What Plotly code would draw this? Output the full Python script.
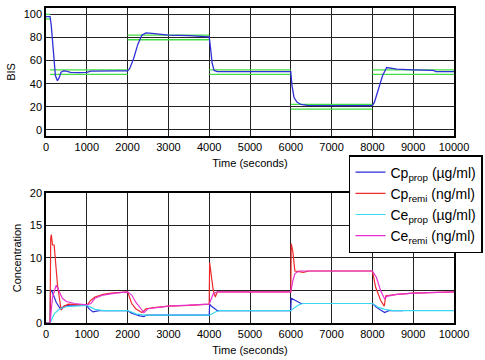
import plotly.graph_objects as go
from plotly.subplots import make_subplots

# ---- BIS data ----
bis_t = [0, 100, 130, 180, 230, 280, 320, 370, 430, 500, 600, 800, 1000, 1100, 1300, 1800, 2000,
         2050, 2150, 2250, 2350, 2450, 2600, 2800, 3000, 3500, 3900, 4000, 4030, 4070, 4120, 4200,
         5000, 6000, 6030, 6080, 6150, 6250, 6400, 7000, 7900, 8000, 8050, 8150, 8250, 8350, 8450,
         8600, 9000, 9500, 9550, 10000]
bis_v = [98, 98, 90, 65, 47, 42.5, 45, 50, 51, 50.8, 49.8, 49.5, 49.8, 50.8, 51, 51, 51,
         53, 62, 74, 82, 84, 83.5, 82.5, 82, 81.5, 81, 80.5, 72, 58, 51.5, 50.5,
         50.5, 50.5, 38, 28, 24, 22, 21.2, 21, 21, 21, 24, 35, 47, 54, 53.5,
         52.5, 52, 51.5, 50.5, 50.5]

# target bands (upper / lower) per segment
band_start = [0, 100, 2000, 4000, 6000, 8000]
band_end = [100, 2000, 4000, 6000, 8000, 10000]
band_center = [98, 50, 80, 50, 20, 50]
band_half = 2

# ---- Concentration data ----
cpp_t = [0, 100, 110, 140, 250, 350, 450, 600, 1000, 1050, 1150, 1300, 2000, 2100, 2300, 2400, 2450,
         4000, 4010, 4050, 4200, 6000, 6010, 6100, 6250, 8000, 8100, 8300, 8400, 8750]
cpp_v = [0, 0, 4.8, 5.0, 3.2, 2.2, 2.6, 2.8, 2.7, 2.2, 1.7, 1.9, 1.9, 1.5, 1.1, 1.0, 1.2,
         1.2, 2.9, 2.6, 1.9, 1.9, 3.8, 3.5, 3.0, 3.0, 2.4, 1.6, 1.9, 1.9]

cpr_t = [0, 100, 115, 130, 160, 200, 280, 370, 450, 550, 1000, 1100, 1200, 1400, 1600, 2000,
         2100, 2200, 2350, 2450, 2700, 3000, 3500, 4000, 4010, 4050, 4100, 4150, 4200, 6000,
         6010, 6050, 6100, 6200, 6300, 6450, 8000, 8080, 8200, 8290, 8330, 8600, 9000, 10000]
cpr_v = [0, 0, 13.0, 13.6, 12.0, 12.0, 6.0, 2.0, 2.6, 2.9, 2.7, 3.5, 4.0, 4.4, 4.6, 4.8,
         3.0, 2.2, 1.6, 2.2, 2.4, 2.6, 2.7, 2.9, 9.3, 7.0, 5.0, 4.0, 4.8, 4.8,
         12.2, 11.0, 8.0, 7.9, 7.8, 8.0, 8.0, 5.5, 3.5, 2.6, 4.2, 4.4, 4.6, 4.8]

cep_t = [0, 100, 200, 300, 400, 500, 1000, 1100, 1200, 1400, 2000, 2100, 2200, 2400, 4000, 4100,
         4150, 4250, 6000, 6100, 6200, 6300, 8000, 8150, 8300, 8500, 10000]
cep_v = [0, 0, 1.4, 2.0, 2.3, 2.5, 2.7, 2.4, 2.1, 1.9, 1.9, 1.7, 1.4, 1.2, 1.2, 1.5,
         1.7, 1.9, 1.9, 2.4, 2.8, 3.0, 3.0, 2.4, 2.1, 1.9, 1.9]

cer_t = [0, 100, 160, 250, 300, 400, 500, 700, 1000, 1100, 1200, 1400, 1700, 2000, 2100, 2200,
         2350, 2400, 2500, 2700, 3000, 4000, 4050, 4100, 4200, 6000, 6050, 6100, 6200, 8000,
         8100, 8200, 8300, 8350, 8600, 9000, 10000]
cer_v = [0, 0, 4.0, 5.8, 5.2, 3.8, 3.3, 3.0, 2.8, 3.0, 3.8, 4.3, 4.6, 4.8, 4.3, 3.2,
         2.0, 1.6, 2.2, 2.4, 2.6, 2.9, 3.8, 4.5, 4.8, 4.8, 6.5, 7.6, 8.0, 8.0,
         7.0, 5.0, 3.7, 4.1, 4.4, 4.6, 4.8]

x_ticks = list(range(0, 10001, 1000))
x_tick_labels = [str(v) for v in x_ticks]
bis_ticks = [0, 20, 40, 60, 80, 100]
conc_ticks = [0, 5, 10, 15, 20]

fig = make_subplots(rows=2, cols=1, vertical_spacing=0.0)

# green bands
gx, gy = [], []
for s, e, c in zip(band_start, band_end, band_center):
    for off in (band_half, -band_half):
        gx += [s, e, None]
        gy += [c + off, c + off, None]
fig.add_trace(go.Scatter(x=gx, y=gy, mode="lines", line=dict(color="#44dd44", width=1.3),
                         showlegend=False, hoverinfo="skip"), row=1, col=1)
fig.add_trace(go.Scatter(x=bis_t, y=bis_v, mode="lines", line=dict(color="#3030d8", width=1.3),
                         showlegend=False), row=1, col=1)

fig.add_trace(go.Scatter(x=cpp_t, y=cpp_v, mode="lines", line=dict(color="#2a2ad8", width=1.2),
                         name="Cp<sub>prop</sub> (\u00b5g/ml)"), row=2, col=1)
fig.add_trace(go.Scatter(x=cpr_t, y=cpr_v, mode="lines", line=dict(color="#ee2a2a", width=1.2),
                         name="Cp<sub>remi</sub> (ng/ml)"), row=2, col=1)
fig.add_trace(go.Scatter(x=cep_t, y=cep_v, mode="lines", line=dict(color="#3ad8f0", width=1.2),
                         name="Ce<sub>prop</sub> (\u00b5g/ml)"), row=2, col=1)
fig.add_trace(go.Scatter(x=cer_t, y=cer_v, mode="lines", line=dict(color="#e630d0", width=1.2),
                         name="Ce<sub>remi</sub> (ng/ml)"), row=2, col=1)

axis_common = dict(showline=True, mirror=True, linecolor="black", linewidth=1.5,
                   showgrid=True, gridcolor="#222222", gridwidth=1.4, zeroline=False,
                   ticks="", tickfont=dict(size=11, color="black"))

fig.update_xaxes(range=[0, 10000], tickvals=x_ticks, ticktext=x_tick_labels, **axis_common)
fig.update_xaxes(title=dict(text="Time (seconds)", font=dict(size=11, color="black"), standoff=7))
fig.update_yaxes(**axis_common)
fig.update_yaxes(range=[-5.3, 105.5], tickvals=bis_ticks, row=1, col=1,
                 title=dict(text="BIS", font=dict(size=11, color="black"), standoff=6))
fig.update_yaxes(range=[0, 20], tickvals=conc_ticks, row=2, col=1,
                 title=dict(text="Concentration", font=dict(size=11, color="black"), standoff=6))

fig.update_layout(
    width=485, height=360,
    margin=dict(l=46, r=31, t=8, b=37, autoexpand=False),
    paper_bgcolor="white", plot_bgcolor="white",
    font=dict(family="Liberation Sans, Arial, sans-serif", size=11, color="black"),
    yaxis=dict(domain=[0.5937, 1.0]),
    yaxis2=dict(domain=[0.0, 0.4127]),
    legend=dict(x=0.7426, y=0.5333, xanchor="left", yanchor="top",
                bgcolor="white", bordercolor="black", borderwidth=1.5,
                font=dict(size=14, color="black"), tracegroupgap=0),
)

fig.write_html("out.html")
